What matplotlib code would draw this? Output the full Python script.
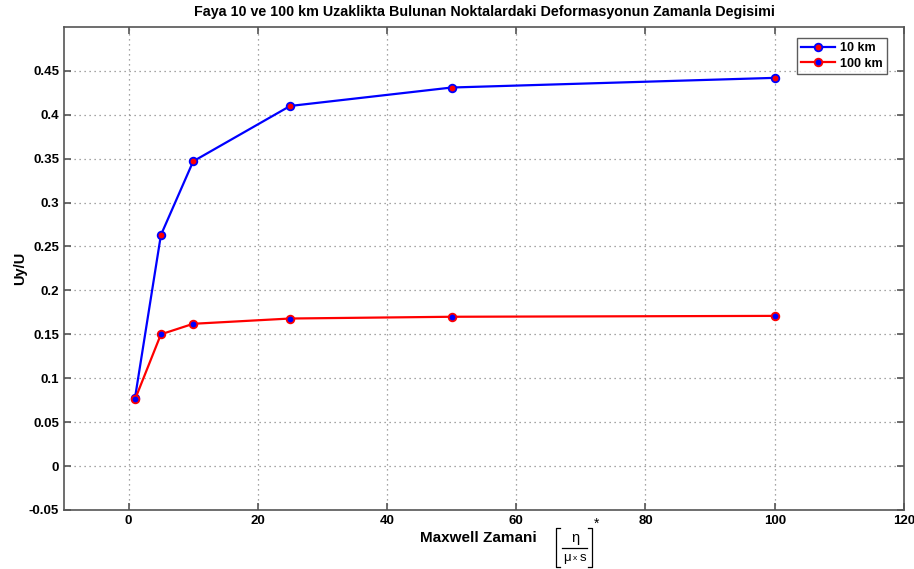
import matplotlib
matplotlib.use("Agg")
import matplotlib.pyplot as plt
from matplotlib.lines import Line2D

plt.rcParams['font.family'] = ['Liberation Sans', 'DejaVu Sans']
plt.rcParams['font.weight'] = 'bold'

maxwell_time = [1, 5, 10, 25, 50, 100]
uy_10km = [0.078, 0.263, 0.347, 0.410, 0.431, 0.442]
uy_100km = [0.076, 0.150, 0.162, 0.168, 0.170, 0.171]

xticks = [0, 20, 40, 60, 80, 100, 120]
yticks = [-0.05, 0, 0.05, 0.1, 0.15, 0.2, 0.25, 0.3, 0.35, 0.4, 0.45]
ytick_labels = ['-0.05', '0', '0.05', '0.1', '0.15', '0.2', '0.25', '0.3', '0.35', '0.4', '0.45']

W, H = 914, 569
fig = plt.figure(figsize=(W / 100, H / 100), dpi=100)
ax = fig.add_axes([0.070, 0.1037, 0.919, 0.849])

ax.plot(maxwell_time, uy_10km, color='blue', lw=1.6, marker='o', ms=5.5,
        markerfacecolor='red', markeredgecolor='blue', markeredgewidth=1.3, label='10 km')
ax.plot(maxwell_time, uy_100km, color='red', lw=1.6, marker='o', ms=5.5,
        markerfacecolor='blue', markeredgecolor='red', markeredgewidth=1.3, label='100 km')

ax.set_xlim(-10, 120)
ax.set_ylim(-0.05, 0.5)
ax.set_xticks(xticks)
ax.set_yticks(yticks)
ax.set_yticklabels(ytick_labels)
ax.tick_params(direction='in', length=5, width=1.2, color='#555555', labelsize=9.5,
               top=True, right=True)
for lbl in ax.get_xticklabels() + ax.get_yticklabels():
    lbl.set_fontweight('bold')
for sp in ax.spines.values():
    sp.set_color('#555555')
    sp.set_linewidth(1.2)
ax.grid(True, linestyle=(0, (1, 3)), color='#888888', linewidth=0.9)

ax.set_title('Faya 10 ve 100 km Uzaklikta Bulunan Noktalardaki Deformasyonun Zamanla Degisimi',
             fontsize=10.3, fontweight='bold', pad=8)
ax.set_ylabel('Uy/U', fontsize=10.5, fontweight='bold', labelpad=1)


def fx(px):
    return px / W


def fy(py):
    return 1 - py / H


# x axis label with the [eta / (mu x s)]* unit drawn by hand
fig.text(fx(478), fy(538), 'Maxwell Zamani', fontsize=11, fontweight='bold',
         ha='center', va='center')
kw = dict(transform=fig.transFigure, color='black', lw=0.9)
for bx, sx in [(556, 560), (592, 588)]:
    fig.add_artist(Line2D([fx(sx), fx(bx), fx(bx), fx(sx)],
                          [fy(528), fy(528), fy(567), fy(567)], **kw))
fig.add_artist(Line2D([fx(562), fx(587)], [fy(548), fy(548)], **kw))
fig.text(fx(575), fy(538), 'η', fontsize=10.5, fontweight='normal', ha='center', va='center')
fig.text(fx(567), fy(558), 'μ', fontsize=9.5, fontweight='normal', ha='center', va='center')
fig.text(fx(575.5), fy(559), 'x', fontsize=6, fontweight='normal', ha='center', va='center')
fig.text(fx(583), fy(558), 's', fontsize=9.5, fontweight='normal', ha='center', va='center')
fig.text(fx(597), fy(524), '*', fontsize=10, fontweight='normal', ha='center', va='center')

leg = ax.legend(loc='upper right', prop={'weight': 'bold', 'size': 9},
                frameon=True, fancybox=False, edgecolor='#333333', borderpad=0.35,
                handlelength=2.7, handletextpad=0.4, labelspacing=0.25,
                borderaxespad=0, bbox_to_anchor=(0.980, 0.977))
leg.get_frame().set_linewidth(1.0)

fig.savefig('out.png', dpi=100)
